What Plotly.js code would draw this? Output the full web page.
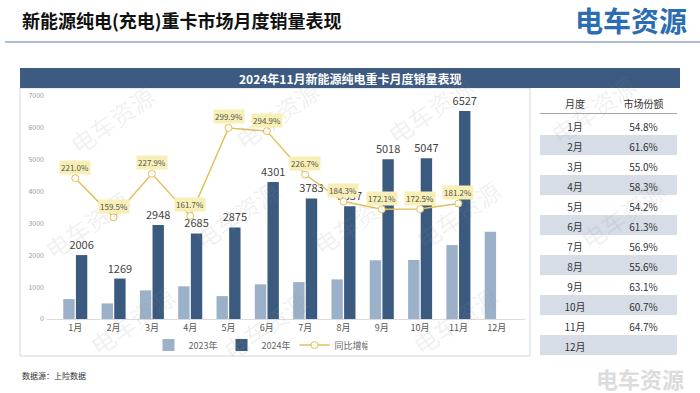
<!DOCTYPE html>
<html><head><meta charset="utf-8">
<script src="https://cdn.plot.ly/plotly-3.0.1.min.js"></script>
<style>html,body{margin:0;padding:0;background:#fff}#chart{width:700px;height:393px}</style>
</head><body><div id="chart"></div>
<script>
const months = ['1月','2月','3月','4月','5月','6月','7月','8月','9月','10月','11月','12月'];
const sales2023 = [625,489,899,1026,719,1089,1158,1244,1844,1852,2321,2740];
const sales2024 = [2006,1269,2948,2685,2875,4301,3783,3537,5018,5047,6527,null];
const growth = [2.210,1.595,2.279,1.617,2.999,2.949,2.267,1.843,1.721,1.725,1.812,null];
const yTicks = [0,1000,2000,3000,4000,5000,6000,7000];
const tableHeader = ['月度','市场份额'];
const marketShare = ['54.8%','61.6%','55.0%','58.3%','54.2%','61.3%','56.9%','55.6%','63.1%','60.7%','64.7%',''];
const seriesNames = ['2023年','2024年','同比增幅'];

const F = '"Noto Sans CJK SC","Noto Sans",sans-serif';
const W = 700, H = 393;
const px = x => x / W, py = y => 1 - y / H;
const c23 = '#9bb1c9', c24 = '#3b5a80', cLine = '#e3bf5a';

const traces = [
  {type:'bar', name:seriesNames[0], x:months, y:sales2023, marker:{color:c23}, hoverinfo:'skip'},
  {type:'bar', name:seriesNames[1], x:months, y:sales2024, marker:{color:c24},
   text:sales2024.map(v => v == null ? '' : String(v)), textposition:'outside', constraintext:'none',
   textfont:{size:11, color:'#444', family:F}, cliponaxis:false, hoverinfo:'skip'},
  {type:'scatter', mode:'lines+markers', name:seriesNames[2], x:months, y:growth, yaxis:'y2',
   line:{color:cLine, width:1.5}, marker:{size:7, color:'#fff', line:{color:cLine, width:1}},
   cliponaxis:false, hoverinfo:'skip'},
  {type:'table', domain:{x:[px(540), px(677)], y:[py(355), py(92)]}, columnwidth:[70,67],
   header:{values:tableHeader, fill:{color:'#fff'}, line:{width:0, color:'rgba(0,0,0,0)'},
     align:'center', font:{size:10, color:'#333', family:F}, height:23},
   cells:{values:[months, marketShare],
     fill:{color:[months.map((m,i)=> i%2 ? '#d6dde7' : '#fff'), months.map((m,i)=> i%2 ? '#d6dde7' : '#fff')]},
     line:{width:0, color:'rgba(0,0,0,0)'}, align:'center', font:{size:10, color:'#333', family:F}, height:20}}
];

const growthLabels = growth.map((g,i) => g == null ? null : ({
  x:months[i], y:g, xref:'x', yref:'y2', text:(g*100).toFixed(1)+'%', showarrow:false,
  yshift:11, bgcolor:'#f7efb5', borderpad:1, font:{size:8, color:'#555', family:F}
})).filter(a => a);

const wm = [[60,75],[225,70],[430,65],[645,65],[35,225],[185,215],[355,220],[510,215],[675,215],[80,365],[265,370],[455,365]];
const watermarks = wm.map(p => ({x:px(p[0]), y:py(p[1]), xref:'paper', yref:'paper', text:'电车资源',
  showarrow:false, textangle:-35, font:{size:24, color:'rgba(140,140,140,0.13)', family:F}}));

const annotations = [
  ...watermarks,
  {x:px(20), y:py(20), xref:'paper', yref:'paper', xanchor:'left', yanchor:'middle', showarrow:false,
   text:'<b>新能源纯电(充电)重卡市场月度销量表现</b>', font:{size:18, color:'#111', family:F}},
  {x:px(631), y:py(20), xref:'paper', yref:'paper', xanchor:'center', yanchor:'middle', showarrow:false,
   text:'<b>电车资源</b>', font:{size:28, color:'#2a6db3', family:F}},
  {x:px(350), y:py(78), xref:'paper', yref:'paper', xanchor:'center', yanchor:'middle', showarrow:false,
   text:'<b>2024年11月新能源纯电重卡月度销量表现</b>', font:{size:12, color:'#fff', family:F}},
  {x:px(20), y:py(375), xref:'paper', yref:'paper', xanchor:'left', yanchor:'middle', showarrow:false,
   text:'数据源：上险数据', font:{size:8, color:'#333', family:F}},
  {x:px(640), y:py(378), xref:'paper', yref:'paper', xanchor:'center', yanchor:'middle', showarrow:false,
   text:'<b>电车资源</b>', font:{size:22, color:'#dcdcdc', family:F}},
  ...growthLabels
];

const shapes = [
  {type:'line', xref:'paper', yref:'paper', x0:px(5), x1:px(700), y0:py(42), y1:py(42), line:{color:'#8fa6c6', width:1.5}},
  {type:'rect', xref:'paper', yref:'paper', x0:px(20), x1:px(530), y0:py(356), y1:py(88), line:{color:'#d6d6d6', width:1}, layer:'below'},
  {type:'rect', xref:'paper', yref:'paper', x0:px(20), x1:px(680), y0:py(88), y1:py(68), fillcolor:'#3d5a80', line:{width:0}},
  {type:'line', xref:'paper', yref:'paper', x0:px(540), x1:px(677), y0:py(113.5), y1:py(113.5), line:{color:'#a8a8a8', width:1}}
];

const layout = {
  width:W, height:H, margin:{l:0, r:0, t:0, b:0}, paper_bgcolor:'#fff', plot_bgcolor:'rgba(0,0,0,0)',
  font:{family:F},
  barmode:'group', bargap:0.34, bargroupgap:0.1,
  xaxis:{domain:[px(47), px(525)], showgrid:false, showline:true, linecolor:'#dcdcdc', linewidth:1,
    ticks:'', tickfont:{size:9, color:'#555', family:F}, fixedrange:true},
  yaxis:{domain:[py(319), py(96)], range:[0,7000], tickvals:yTicks, showgrid:false, zeroline:false,
    showline:false, ticks:'', tickfont:{size:7, color:'#999', family:F}, ticklabelstandoff:2},
  yaxis2:{overlaying:'y', range:[0,3.5], visible:false},
  showlegend:true,
  legend:{orientation:'h', x:px(258), xanchor:'center', y:py(345), yanchor:'middle',
    font:{size:9, color:'#666', family:F}, bgcolor:'rgba(0,0,0,0)', itemwidth:30, entrywidth:28,
    traceorder:'normal', tracegroupgap:0},
  annotations, shapes
};

Plotly.newPlot('chart', traces, layout, {displayModeBar:false, staticPlot:true});
</script>
</body></html>
